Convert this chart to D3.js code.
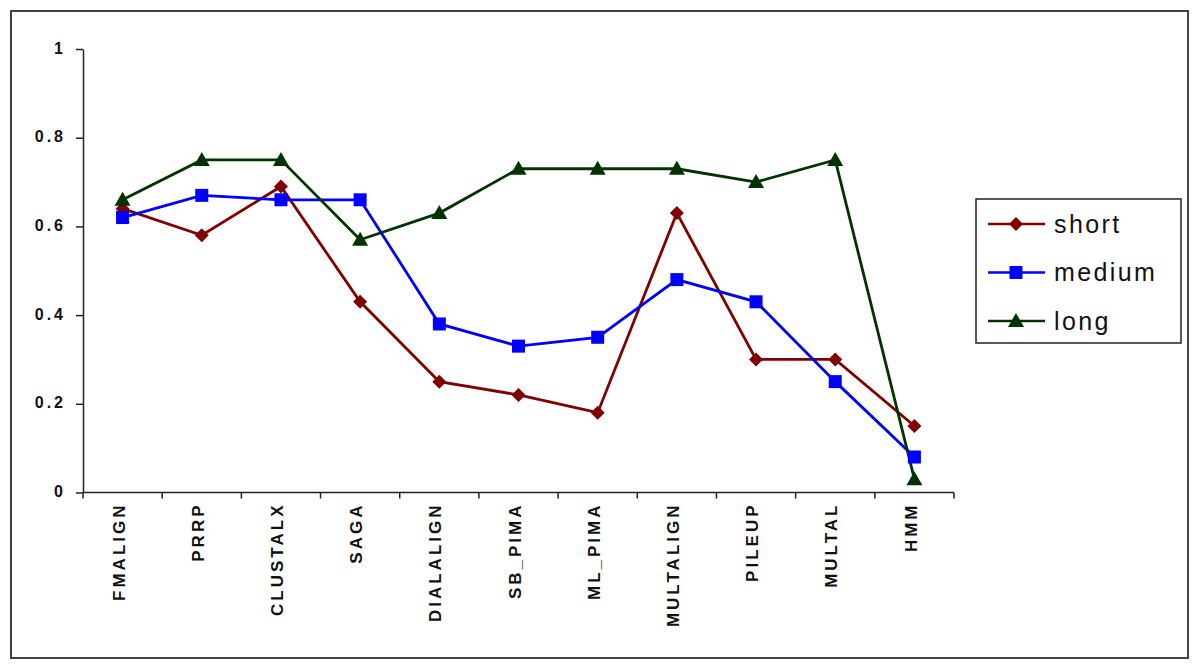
<!DOCTYPE html>
<html><head><meta charset="utf-8">
<script src="https://cdn.jsdelivr.net/npm/d3@7"></script>
<style>body{margin:0;background:#fff;}svg{display:block;}</style>
</head><body>
<script>
const categories = ["FMALIGN","PRRP","CLUSTALX","SAGA","DIALALIGN","SB_PIMA","ML_PIMA","MULTALIGN","PILEUP","MULTAL","HMM"];
const shortVals  = [0.64,0.58,0.69,0.43,0.25,0.22,0.18,0.63,0.30,0.30,0.15];
const mediumVals = [0.62,0.67,0.66,0.66,0.38,0.33,0.35,0.48,0.43,0.25,0.08];
const longVals   = [0.66,0.75,0.75,0.57,0.63,0.73,0.73,0.73,0.70,0.75,0.03];
const yTicks = [0,0.2,0.4,0.6,0.8,1];
const yTickLabels = ["0","0.2","0.4","0.6","0.8","1"];
const seriesNames = ["short","medium","long"];
const seriesColors = ["#800000","#0000ff","#003300"];
const seriesShapes = ["diamond","square","triangle"];
const seriesValues = [shortVals, mediumVals, longVals];

const W = 1200, H = 668;
const svg = d3.select("body").append("svg").attr("width", W).attr("height", H);
svg.append("rect").attr("x",11).attr("y",11).attr("width",1177).attr("height",647)
  .attr("fill","#fff").attr("stroke","#444").attr("stroke-width",2);

const x = d3.scaleBand().domain(categories).range([83, 954]);
const y = d3.scaleLinear().domain([0,1]).range([492.5, 49]);

// Y axis
const yAxis = svg.append("g").attr("transform","translate(83,0)")
  .call(d3.axisLeft(y).tickValues(yTicks).tickFormat((d,i)=>yTickLabels[i]).tickSize(7).tickSizeOuter(0));
yAxis.select(".domain").attr("stroke","#222").attr("stroke-width",1.5);
yAxis.selectAll(".tick line").attr("stroke","#222").attr("stroke-width",1.5);
yAxis.selectAll(".tick text").attr("x",-17).attr("dy","0.25em")
  .attr("font-family","Liberation Sans, Arial, sans-serif")
  .style("font-weight","bold").style("font-size","16px").attr("letter-spacing","3px").attr("fill","#111");

// X axis with ticks at band boundaries
const xg = svg.append("g").attr("transform",`translate(0,${y(0)})`);
xg.append("line").attr("x1",83).attr("x2",954).attr("stroke","#222").attr("stroke-width",1.5);
const bounds = categories.map(c=>x(c)).concat([x.range()[1]]);
xg.selectAll("line.t").data(bounds).enter().append("line").attr("class","t")
  .attr("x1",d=>d).attr("x2",d=>d).attr("y1",0).attr("y2",6).attr("stroke","#222").attr("stroke-width",1.5);
xg.selectAll("text").data(categories).enter().append("text")
  .attr("transform",d=>`translate(${x(d)+x.bandwidth()/2 - 4},10) rotate(-90)`)
  .attr("text-anchor","end").attr("dy","0.36em")
  .attr("font-family","Liberation Sans, Arial, sans-serif").attr("font-weight","bold")
  .attr("font-size",17).attr("letter-spacing","3px").attr("fill","#111").text(d=>d);

function marker(sel, shape, color){
  if(shape==="square"){
    sel.append("rect").attr("x",-6.5).attr("y",-6.5).attr("width",13).attr("height",13).attr("fill",color);
  } else if(shape==="diamond"){
    sel.append("path").attr("d","M0,-7 L7,0 L0,7 L-7,0Z").attr("fill",color);
  } else {
    sel.append("path").attr("d","M0,-8 L8,6 L-8,6Z").attr("fill",color);
  }
}

const cx = d => x(d) + x.bandwidth()/2;
seriesValues.forEach((vals, si) => {
  const line = d3.line().x((d,i)=>cx(categories[i])).y(d=>y(d));
  svg.append("path").datum(vals).attr("d",line).attr("fill","none")
    .attr("stroke",seriesColors[si]).attr("stroke-width",2.8);
});
seriesValues.forEach((vals, si) => {
  svg.selectAll(null).data(vals).enter().append("g")
    .attr("transform",(d,i)=>`translate(${cx(categories[i])},${y(d)})`)
    .each(function(){ marker(d3.select(this), seriesShapes[si], seriesColors[si]); });
});

// Legend
const lg = svg.append("g");
lg.append("rect").attr("x",976).attr("y",199).attr("width",205).attr("height",144)
  .attr("fill","#fff").attr("stroke","#222").attr("stroke-width",1.5);
seriesNames.forEach((n,i)=>{
  const yy = 224 + i*48.5;
  lg.append("line").attr("x1",988).attr("x2",1045).attr("y1",yy).attr("y2",yy)
    .attr("stroke",seriesColors[i]).attr("stroke-width",2.5);
  const g = lg.append("g").attr("transform",`translate(1016,${yy})`);
  marker(g, seriesShapes[i], seriesColors[i]);
  lg.append("text").attr("x",1054).attr("y",yy).attr("dy","0.35em")
    .attr("font-family","Liberation Sans, Arial, sans-serif").attr("font-size",25)
    .attr("letter-spacing","2.4px").attr("fill","#111").text(n);
});
</script>
</body></html>
